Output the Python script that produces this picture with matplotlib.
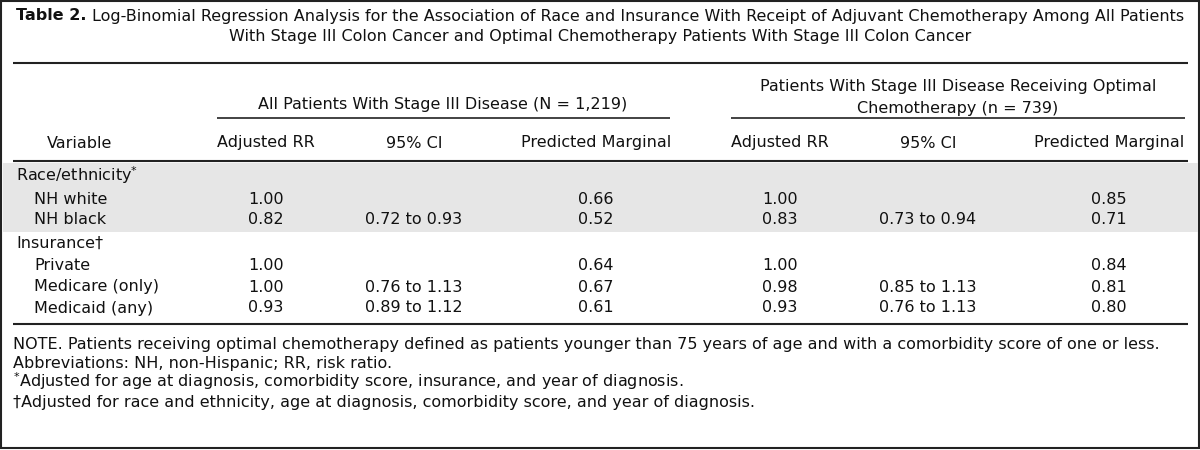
import matplotlib
matplotlib.use('Agg')
import matplotlib.pyplot as plt
from matplotlib.patches import Rectangle

plt.rcParams['font.family'] = ['DejaVu Sans']
plt.rcParams['mathtext.fontset'] = 'dejavusans'

# Table content
title_bold = 'Table 2.'
title_line1 = ('Log-Binomial Regression Analysis for the Association of Race and Insurance '
               'With Receipt of Adjuvant Chemotherapy Among All Patients')
title_line2 = 'With Stage III Colon Cancer and Optimal Chemotherapy Patients With Stage III Colon Cancer'

group_all = 'All Patients With Stage III Disease (N = 1,219)'
group_opt = ['Patients With Stage III Disease Receiving Optimal', 'Chemotherapy (n = 739)']

col_headers = ['Variable', 'Adjusted RR', '95% CI', 'Predicted Marginal',
               'Adjusted RR', '95% CI', 'Predicted Marginal']

variables = ['Race/ethnicity$^{*}$', 'NH white', 'NH black', 'Insurance\u2020',
             'Private', 'Medicare (only)', 'Medicaid (any)']
is_sub = [False, True, True, False, True, True, True]

all_rr = ['', '1.00', '0.82', '', '1.00', '1.00', '0.93']
all_ci = ['', '', '0.72 to 0.93', '', '', '0.76 to 1.13', '0.89 to 1.12']
all_pm = ['', '0.66', '0.52', '', '0.64', '0.67', '0.61']
opt_rr = ['', '1.00', '0.83', '', '1.00', '0.98', '0.93']
opt_ci = ['', '', '0.73 to 0.94', '', '', '0.85 to 1.13', '0.76 to 1.13']
opt_pm = ['', '0.85', '0.71', '', '0.84', '0.81', '0.80']

notes = [
    'NOTE. Patients receiving optimal chemotherapy defined as patients younger than 75 years of age '
    'and with a comorbidity score of one or less.',
    'Abbreviations: NH, non-Hispanic; RR, risk ratio.',
    '$^{*}$Adjusted for age at diagnosis, comorbidity score, insurance, and year of diagnosis.',
    '\u2020Adjusted for race and ethnicity, age at diagnosis, comorbidity score, and year of diagnosis.',
]

# layout (pixel coordinates, y down); text is placed on its baseline
FS = 11.5
BL = 5.5  # baseline offset below the visual centre of a line
col_x = [80, 266, 414, 596, 780, 928, 1109]
row_y = [175, 198, 219, 242, 264, 286, 307]
x_left, x_right = 13, 1188
ink = '#111111'

fig = plt.figure(figsize=(12, 4.5), dpi=100)
ax = fig.add_axes([0, 0, 1, 1])
ax.set_xlim(0, 1200)
ax.set_ylim(450, 0)
ax.axis('off')


def put(x, y, s, ha='left', **kw):
    return ax.text(x, y + BL, s, fontsize=FS, va='baseline', ha=ha, color=ink, **kw)


# outer frame
ax.add_patch(Rectangle((1, 1), 1197.5, 447, fill=False, edgecolor='#222222', lw=1.5))

# shaded block for race rows
ax.add_patch(Rectangle((2.5, 163), 1195, 69, facecolor='#e6e6e6', edgecolor='none'))

# title
renderer = fig.canvas.get_renderer()
tb = put(0, 15, title_bold, fontweight='bold')
tr = put(0, 15, title_line1)
wb = tb.get_window_extent(renderer).width
wr = tr.get_window_extent(renderer).width
start = 600 - (wb + 5 + wr) / 2
tb.set_x(start)
tr.set_x(start + wb + 5)
put(600, 35, title_line2, ha='center')

# rules
for y in [63, 161, 324]:
    ax.plot([x_left, x_right], [y, y], color='#222222', lw=1.5, solid_capstyle='butt')
ax.plot([217, 670], [118, 118], color='#222222', lw=1.2, solid_capstyle='butt')
ax.plot([731, 1185], [118, 118], color='#222222', lw=1.2, solid_capstyle='butt')

# group headers
put(443, 103, group_all, ha='center')
put(958, 86, group_opt[0], ha='center')
put(958, 107, group_opt[1], ha='center')

# column headers
for x, h in zip(col_x, col_headers):
    put(x, 142, h, ha='center')

# body
for i, y in enumerate(row_y):
    put(34 if is_sub[i] else 16, y, variables[i])
    for x, col in zip(col_x[1:], [all_rr, all_ci, all_pm, opt_rr, opt_ci, opt_pm]):
        if col[i]:
            put(x, y, col[i], ha='center')

# notes
for k, line in enumerate(notes):
    put(x_left, 343 + k * 19.5, line)

fig.savefig('out.png', dpi=100)
